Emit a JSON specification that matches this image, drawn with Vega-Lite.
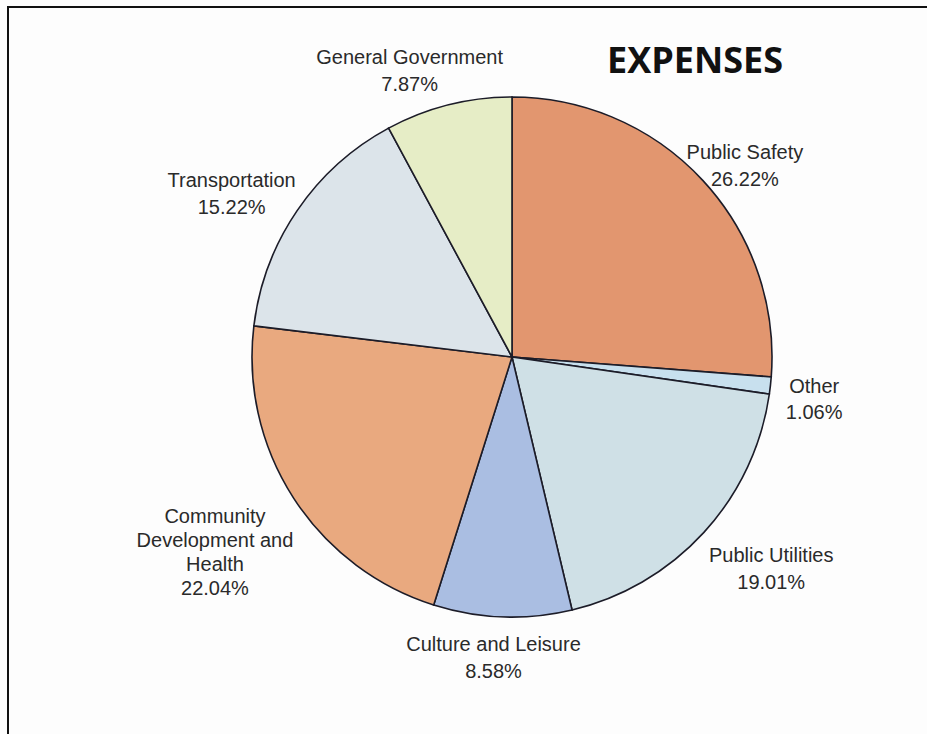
{
  "$schema": "https://vega.github.io/schema/vega-lite/v6.json",
  "width": 1010,
  "height": 740,
  "autosize": {"type": "none"},
  "padding": {"left": 8, "top": 7, "right": -91, "bottom": -13},
  "background": "#fdfdfd",
  "config": {
    "view": {"stroke": "#111111", "strokeWidth": 2, "fill": null}
  },
  "title": {
    "text": "EXPENSES",
    "font": "Open Sans",
    "fontWeight": "bold",
    "fontSize": 36,
    "color": "#111111",
    "anchor": "start",
    "frame": "group",
    "orient": "top",
    "offset": 0,
    "baseline": "alphabetic",
    "dx": 599,
    "dy": 124
  },
  "data": {
    "values": [
      {"category": "Public Safety", "percent": 26.22, "order": 1, "label": ["Public Safety", "26.22%"]},
      {"category": "Other", "percent": 1.06, "order": 2, "label": ["Other", "1.06%"]},
      {"category": "Public Utilities", "percent": 19.01, "order": 3, "label": ["Public Utilities", "19.01%"]},
      {"category": "Culture and Leisure", "percent": 8.58, "order": 4, "label": ["Culture and Leisure", "8.58%"]},
      {"category": "Community Development and Health", "percent": 22.04, "order": 5, "label": ["Community", "Development and", "Health", "22.04%"]},
      {"category": "Transportation", "percent": 15.22, "order": 6, "label": ["Transportation", "15.22%"]},
      {"category": "General Government", "percent": 7.87, "order": 7, "label": ["General Government", "7.87%"]}
    ]
  },
  "encoding": {
    "x": {"datum": 0, "type": "quantitative", "scale": {"domain": [-504, 506], "nice": false, "zero": false}, "axis": null},
    "y": {"datum": 0, "type": "quantitative", "scale": {"domain": [-390, 350], "nice": false, "zero": false}, "axis": null},
    "theta": {"field": "percent", "type": "quantitative", "stack": true},
    "order": {"field": "order", "type": "quantitative"}
  },
  "layer": [
    {
      "mark": {"type": "arc", "radius": 260, "stroke": "#1c1c28", "strokeWidth": 1.6},
      "encoding": {
        "color": {
          "field": "category",
          "type": "nominal",
          "scale": {
            "domain": ["Public Safety", "Other", "Public Utilities", "Culture and Leisure", "Community Development and Health", "Transportation", "General Government"],
            "range": ["#E2966F", "#C8E0EE", "#CFE0E6", "#AABEE2", "#E9A97F", "#DCE4EA", "#E6EDC6"]
          },
          "legend": null
        }
      }
    },
    {
      "mark": {"type": "text", "radius": 312, "dx": 4, "dy": 8, "font": "Liberation Sans", "fontSize": 20, "lineHeight": 27, "color": "#2a2a2a", "align": "center", "baseline": "middle"},
      "encoding": {"text": {"condition": {"test": "datum.category === 'Public Safety'", "field": "label"}, "value": ""}}
    },
    {
      "mark": {"type": "text", "radius": 304, "dy": -3, "font": "Liberation Sans", "fontSize": 20, "lineHeight": 26, "color": "#2a2a2a", "align": "center", "baseline": "middle"},
      "encoding": {"text": {"condition": {"test": "datum.category === 'Other'", "field": "label"}, "value": ""}}
    },
    {
      "mark": {"type": "text", "radius": 320, "dx": 23, "dy": -17, "font": "Liberation Sans", "fontSize": 20, "lineHeight": 27, "color": "#2a2a2a", "align": "center", "baseline": "middle"},
      "encoding": {"text": {"condition": {"test": "datum.category === 'Public Utilities'", "field": "label"}, "value": ""}}
    },
    {
      "mark": {"type": "text", "radius": 288, "dx": -8, "font": "Liberation Sans", "fontSize": 20, "lineHeight": 27, "color": "#2a2a2a", "align": "center", "baseline": "middle"},
      "encoding": {"text": {"condition": {"test": "datum.category === 'Culture and Leisure'", "field": "label"}, "value": ""}}
    },
    {
      "mark": {"type": "text", "radius": 345, "dx": -7, "dy": -27, "font": "Liberation Sans", "fontSize": 20, "lineHeight": 24, "color": "#2a2a2a", "align": "center", "baseline": "middle"},
      "encoding": {"text": {"condition": {"test": "datum.category === 'Community Development and Health'", "field": "label"}, "value": ""}}
    },
    {
      "mark": {"type": "text", "radius": 332, "dx": -6, "dy": 11, "font": "Liberation Sans", "fontSize": 20, "lineHeight": 27, "color": "#2a2a2a", "align": "center", "baseline": "middle"},
      "encoding": {"text": {"condition": {"test": "datum.category === 'Transportation'", "field": "label"}, "value": ""}}
    },
    {
      "mark": {"type": "text", "radius": 308, "dx": -27, "font": "Liberation Sans", "fontSize": 20, "lineHeight": 27, "color": "#2a2a2a", "align": "center", "baseline": "middle"},
      "encoding": {"text": {"condition": {"test": "datum.category === 'General Government'", "field": "label"}, "value": ""}}
    }
  ]
}
